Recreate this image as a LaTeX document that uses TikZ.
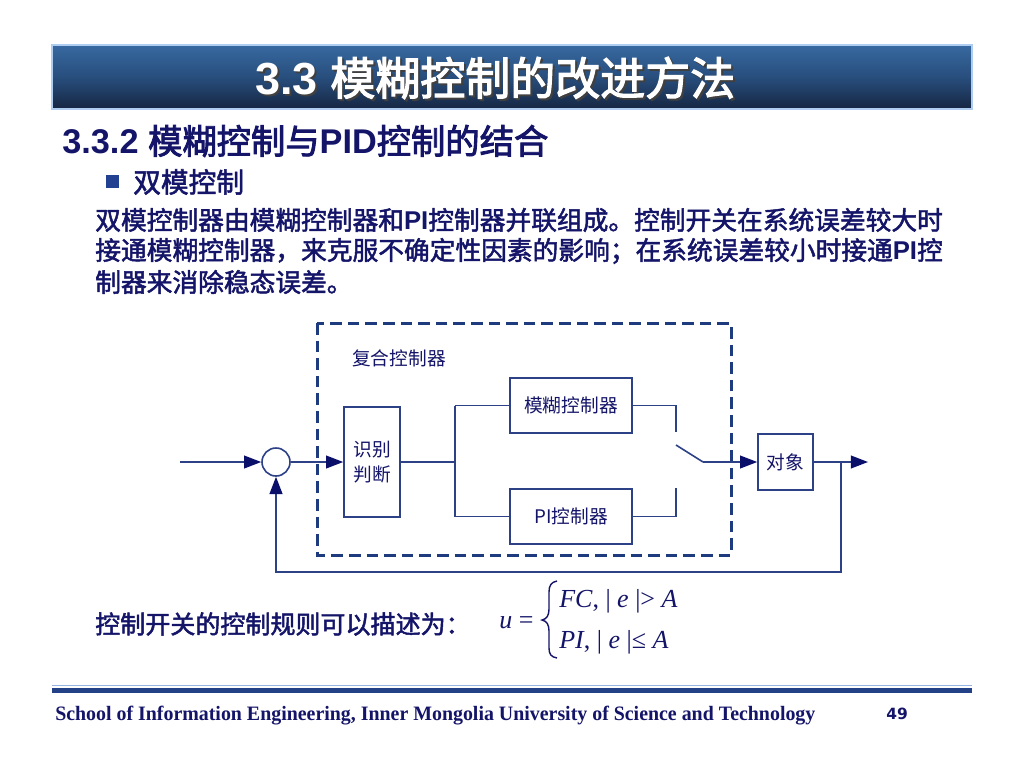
\documentclass[tikz,border=0pt]{standalone}
\usepackage{fontspec}
\setmainfont{Liberation Sans}
\newfontfamily\cjk{Noto Sans CJK SC}
\newfontfamily\cjkm[AutoFakeBold=1.9]{Noto Sans CJK SC}
\newfontfamily\cjkt[AutoFakeBold=2.6]{Noto Sans CJK SC}
\newfontfamily\lat{Liberation Sans}
\newfontfamily\tms{Liberation Serif}
\newfontfamily\dvs{DejaVu Sans}
\usetikzlibrary{arrows.meta}
\definecolor{navy}{RGB}{20,20,105}
\definecolor{lineblue}{RGB}{45,65,135}
\definecolor{dashblue}{RGB}{30,60,125}
\definecolor{tipblue}{RGB}{10,15,105}
\definecolor{bantop}{RGB}{55,105,160}
\definecolor{banmid}{RGB}{40,78,125}
\definecolor{banbot}{RGB}{22,38,66}
\definecolor{banedge}{RGB}{175,205,240}
\definecolor{bulletblue}{RGB}{35,65,145}
\definecolor{footdark}{RGB}{35,65,135}
\definecolor{footlight}{RGB}{150,180,225}
\begin{document}
\begin{tikzpicture}[x=0.25mm,y=-0.25mm,
  ln/.style={draw=lineblue,line width=0.4mm},
  arr/.style={ln,-{Triangle[length=4.3mm,width=3.2mm,color=tipblue]}},
  blk/.style={draw=lineblue,line width=0.4mm,fill=white,inner sep=0pt,
    font=\cjk\fontsize{13.3}{18}\selectfont,text=navy,align=center},
  body/.style={anchor=west,inner sep=0pt,text=navy,
    font=\cjkm\bfseries\fontsize{18.3}{22}\selectfont},
  mrow/.style={anchor=base west,inner sep=0pt,text=navy,
    font=\tms\fontsize{18.5}{22}\selectfont}]
\useasboundingbox (0,0) rectangle (1024,768);
\fill[white] (0,0) rectangle (1024,768);
% title banner
\shade[top color=bantop,bottom color=banbot,middle color=banmid,draw=banedge,line width=0.3mm]
  (52,45) rectangle (972,109);
\node[anchor=west,inner sep=0pt,text=black!75,font=\fontsize{32}{36}\selectfont] at (257,80)
  {{\lat\bfseries 3.3} {\cjkt\bfseries 模糊控制的改进方法}};
\node[anchor=west,inner sep=0pt,text=white,font=\fontsize{32}{36}\selectfont] (title) at (255,78)
  {{\lat\bfseries 3.3} {\cjkt\bfseries 模糊控制的改进方法}};
% subtitle
\node[anchor=west,inner sep=0pt,text=navy,font=\fontsize{24.4}{28}\selectfont] (sub) at (62,141)
  {{\lat\bfseries 3.3.2 }{\cjkt\bfseries 模糊控制与}{\lat\bfseries PID}{\cjkt\bfseries 控制的结合}};
% bullet
\fill[bulletblue] (106,175) rectangle (119,188);
\node[anchor=west,inner sep=0pt,text=navy,font=\cjkm\bfseries\fontsize{19.7}{24}\selectfont] (bul) at (133,182) {双模控制};
% paragraph
\node[body] (p1) at (95,220) {双模控制器由模糊控制器和{\lat\bfseries PI}控制器并联组成。控制开关在系统误差较大时};
\node[body] (p2) at (95,251) {接通模糊控制器，来克服不确定性因素的影响；在系统误差较小时接通{\lat\bfseries PI}控};
\node[body] (p3) at (95,282) {制器来消除稳态误差。};
% dashed box
\draw[dashblue,line width=0.75mm,dash pattern=on 2.9mm off 1.5mm] (317,323) rectangle (731,555);
\node[anchor=west,inner sep=0pt,text=navy,font=\cjk\fontsize{13.3}{18}\selectfont] (lbl) at (352,358) {复合控制器};
% blocks
\node[draw=lineblue,line width=0.4mm,circle,minimum size=7mm,inner sep=0pt,fill=white] (circ) at (276,462) {};
\node[blk,minimum width=14mm,minimum height=27.5mm] (ident) at (372,462) {识别\\判断};
\node[blk,minimum width=30.5mm,minimum height=13.75mm] (fuzzy) at (571,405.5) {模糊控制器};
\node[blk,minimum width=30.5mm,minimum height=13.75mm] (pi) at (571,516.5) {PI控制器};
\node[blk,minimum width=13.75mm,minimum height=14mm] (plant) at (785.5,462) {对象};
\coordinate (in) at (180,462);
\coordinate (j) at (455,462);
\coordinate (jt) at (455,405.5);
\coordinate (jb) at (455,516.5);
\coordinate (s1) at (676,432);
\coordinate (s2) at (676,488);
\coordinate (sw0) at (676,445);
\coordinate (sw1) at (703,462);
\coordinate (out) at (868,462);
\coordinate (fb) at (841,462);
\coordinate (fbc) at (276,572);
% connectors
\draw[arr] (in) -- (circ.west);
\draw[arr] (circ.east) -- (ident.west);
\draw[ln] (ident.east) -- (j);
\draw[ln] (jt) -- (jb);
\draw[ln] (jt) -- (fuzzy.west);
\draw[ln] (jb) -- (pi.west);
\draw[ln] (fuzzy.east) -| (s1);
\draw[ln] (pi.east) -| (s2);
\draw[ln] (sw0) -- (sw1);
\draw[arr] (sw1) -- (plant.west);
\draw[arr] (plant.east) -- (out);
\draw[arr] (fb) |- (fbc) -- (circ.south);
% rule
\node[anchor=west,inner sep=0pt,text=navy,font=\cjkm\bfseries\fontsize{17.8}{22}\selectfont] (rule) at (95,624) {控制开关的控制规则可以描述为：};
\node[mrow] (u) at (499,628) {\itshape u\/ \upshape =};
\draw[navy,line width=0.35mm] (557,581) .. controls (551,582) and (549,586) .. (549,592) -- (549,609)
  .. controls (549,615) and (547,619) .. (542,620) .. controls (547,621) and (549,625) .. (549,631)
  -- (549,648) .. controls (549,654) and (551,657) .. (557,658);
\node[mrow] (r1) at (559,607) {\itshape FC\upshape , | \itshape e\/ \upshape |> \itshape A};
\node[mrow] (r2) at (559,648) {\itshape PI\upshape , | \itshape e\/ \upshape |≤ \itshape A};
% footer
\fill[footlight] (52,684.5) rectangle (972,686);
\fill[footdark] (52,688) rectangle (972,693);
\node[anchor=base west,inner sep=0pt,text=navy] (foot) at (55,720)
  {\resizebox{190mm}{3.6mm}{\tms\bfseries School of Information Engineering, Inner Mongolia University of Science and Technology}};
\node[anchor=base,inner sep=0pt,text=navy,font=\dvs\bfseries\fontsize{11}{13}\selectfont] (pg) at (897,719) {49};
\end{tikzpicture}
\end{document}
